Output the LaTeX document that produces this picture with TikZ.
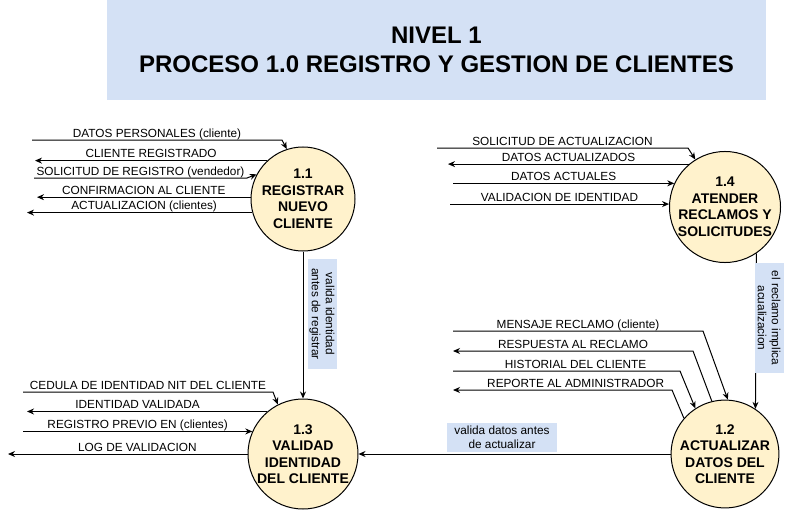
\documentclass[tikz,border=0pt]{standalone}
\usepackage{fontspec}
\setmainfont{Liberation Sans}
\usepackage{tikz}
\usetikzlibrary{arrows.meta}
\newcommand*\procdiam{104pt}
\newcommand*\lblfont{\fontsize{11.8}{14}\selectfont}
\definecolor{procfill}{HTML}{FFF2CC}
\definecolor{notefill}{HTML}{D4E1F5}
\tikzset{
    proceso/.style = {draw, circle, fill=procfill, line width=1pt,
                      minimum size=\procdiam, inner sep=0pt, align=center,
                      font=\fontsize{14}{16.5}\selectfont\bfseries},
    flujo/.style   = {draw, line width=1pt, -{Stealth[length=7pt,width=6pt]}},
    etiq/.style    = {font=\lblfont, anchor=base, yshift=3pt, inner sep=0pt},
    nota/.style    = {fill=notefill, font=\lblfont, align=center, inner sep=1pt,
                      minimum width=110pt, minimum height=29pt},
    titulo/.style  = {fill=notefill, minimum width=659pt, minimum height=100pt,
                      inner sep=0pt, align=center,
                      font=\fontsize{24}{29}\selectfont\bfseries},
  }

\begin{document}
\begin{tikzpicture}[x=1pt, y=-1pt]
    \useasboundingbox (0,0) rectangle (785,511);

    % Title
    \node[titulo] (tit) at (436.5,50) {NIVEL 1\\PROCESO 1.0 REGISTRO Y GESTION DE CLIENTES};

    % Processes
    \node[proceso] (p11) at (303,199) {1.1\\REGISTRAR\\NUEVO\\CLIENTE};
    \node[proceso] (p14) at (725,207) {1.4\\ATENDER\\RECLAMOS Y\\SOLICITUDES};
    \node[proceso, minimum size=110pt] (p13) at (303,454) {1.3\\VALIDAD\\IDENTIDAD\\DEL CLIENTE};
    \node[proceso] (p12) at (725,454) {1.2\\ACTUALIZAR\\DATOS DEL\\CLIENTE};

    % Flows of 1.1
    \coordinate (a1) at (32,140);
    \coordinate (a1k) at (282,140);
    \coordinate (a2) at (p11.133 -| 35,0);
    \coordinate (a3) at (34,178);
    \coordinate (a3k) at (247,178);
    \coordinate (a4) at (p11.178 -| 37,0);
    \coordinate (a5) at (p11.195 -| 27,0);
    \draw[flujo] (a1) -- node[etiq]{DATOS PERSONALES (cliente)} (a1k) -- (p11.108);
    \draw[flujo] (p11.133) -- node[etiq]{CLIENTE REGISTRADO} (a2);
    \draw[flujo] (a3) -- node[etiq]{SOLICITUD DE REGISTRO (vendedor)} (a3k) -- (p11.152);
    \draw[flujo] (p11.178) -- node[etiq]{CONFIRMACION AL CLIENTE} (a4);
    \draw[flujo] (p11.195) -- node[etiq, pos=0.48]{ACTUALIZACION (clientes)} (a5);

    % Flows of 1.4
    \coordinate (b1) at (437,148);
    \coordinate (b1k) at (688,148);
    \coordinate (b2) at (p14.130 -| 448,0);
    \coordinate (b3) at (p14.155 -| 453,0);
    \coordinate (b4) at (p14.177 -| 450,0);
    \draw[flujo] (b1) -- node[etiq]{SOLICITUD DE ACTUALIZACION} (b1k) -- (p14.122);
    \draw[flujo] (p14.130) -- node[etiq]{DATOS ACTUALIZADOS} (b2);
    \draw[flujo] (b3) -- node[etiq]{DATOS ACTUALES} (p14.155);
    \draw[flujo] (b4) -- node[etiq]{VALIDACION DE IDENTIDAD} (p14.177);

    % Flows of 1.3
    \coordinate (c1) at (23,392);
    \coordinate (c1k) at (273,392);
    \coordinate (c2) at (p13.130 -| 27,0);
    \coordinate (c3) at (p13.156 -| 23,0);
    \coordinate (c4) at (p13.180 -| 8,0);
    \draw[flujo] (c1) -- node[etiq]{CEDULA DE IDENTIDAD NIT DEL CLIENTE} (c1k) -- (p13.117);
    \draw[flujo] (p13.130) -- node[etiq, pos=0.54]{IDENTIDAD VALIDADA} (c2);
    \draw[flujo] (c3) -- node[etiq]{REGISTRO PREVIO EN (clientes)} (p13.156);
    \draw[flujo] (p13.180) -- node[etiq, pos=0.46]{LOG DE VALIDACION} (c4);

    % Flows of 1.2
    \coordinate (d1) at (453,331);
    \coordinate (d1k) at (703,331);
    \coordinate (d2k) at (693,351);
    \coordinate (d2) at (453,351);
    \coordinate (d3) at (453,371);
    \coordinate (d3k) at (680,371);
    \coordinate (d4k) at (672,390);
    \coordinate (d4) at (453,390);
    \draw[flujo] (d1) -- node[etiq]{MENSAJE RECLAMO (cliente)} (d1k) -- (p12.87);
    \draw[flujo] (p12.104) -- (d2k) -- node[etiq]{RESPUESTA AL RECLAMO} (d2);
    \draw[flujo] (d3) -- node[etiq, pos=0.54]{HISTORIAL DEL CLIENTE} (d3k) -- (p12.123);
    \draw[flujo] (p12.139) -- (d4k) -- node[etiq, pos=0.44]{REPORTE AL ADMINISTRADOR} (d4);

    % Flows between processes
    \draw[flujo] (p11) -- (p13);
    \draw[flujo] (p14.-56) -- (p12.56);
    \draw[flujo] (p12) -- (p13);
    \node[nota, rotate=-90] (n1) at (322,314) {valida identidad\\antes de registrar};
    \node[nota, rotate=-90] (n2) at (769,318) {el reclamo implica\\acualizacion};
    \node[nota] (n3) at (502,437.5) {valida datos antes\\de actualizar};
\end{tikzpicture}
\end{document}
